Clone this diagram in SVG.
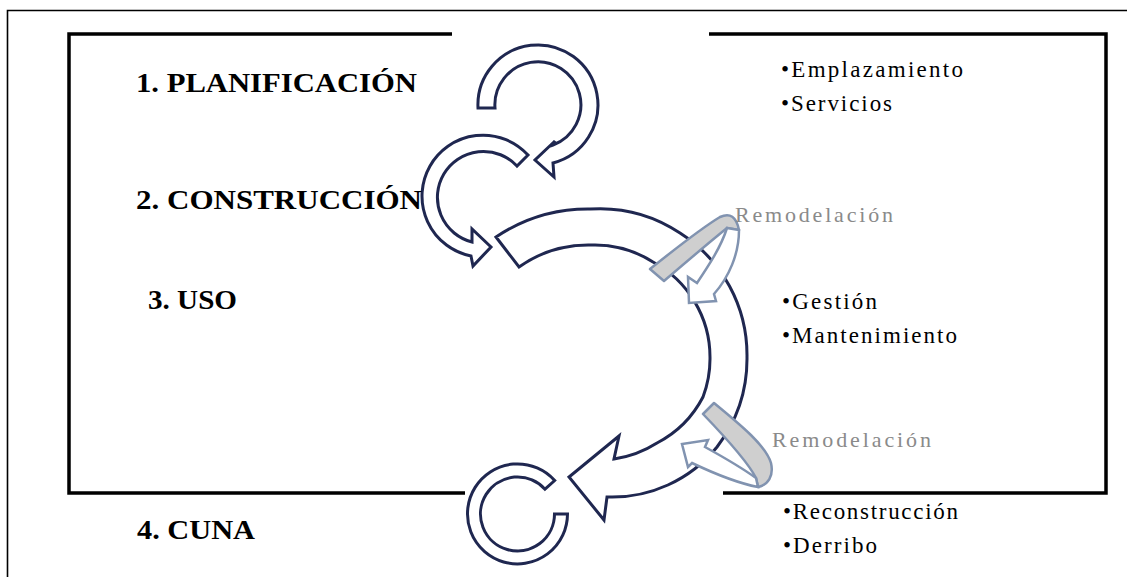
<svg xmlns="http://www.w3.org/2000/svg" width="1127" height="577" viewBox="0 0 1127 577">
<style>
.frame{fill:none;stroke:#000;stroke-width:3.5}
.outer{fill:none;stroke:#000;stroke-width:1.6}
.arr{fill:#fff;stroke:#1f2750;stroke-width:3;stroke-linejoin:miter}
.band{fill:#cfcfcf;stroke:#8193b0;stroke-width:2.5;stroke-linejoin:round}
.shaft{fill:#fff;stroke:#8193b0;stroke-width:2.5;stroke-linejoin:miter}
.stage{font-family:"Liberation Serif",serif;font-weight:bold;font-size:28px;fill:#000}
.item{font-family:"Liberation Serif",serif;font-size:23px;fill:#000}
.remo{font-family:"Liberation Serif",serif;font-size:22px;fill:#8a8a8a}
</style>
<rect width="1127" height="577" fill="#fff"/>
<path class="outer" d="M1127,10.5 H7.5 V577"/>
<g id="frame">
<path class="frame" d="M452,34 H69 V493 H465"/>
<path class="frame" d="M709,34 H1106 V493 H723"/>
</g>
<g id="connectors">
<path id="loop-planificacion" class="arr" d="M478,108 A60,60 0 1,1 553,163 L554,177 L535,160 L555,141 L553,145 A43,43 0 1,0 495,108 Z"/>
<path id="loop-construccion" class="arr" d="M528,155 A61,61 0 1,0 471,256 L473,266 L491,247 L472,229 L472,242 A46,46 0 1,1 517,166 Z"/>
<path id="loop-uso" class="arr" d="M496,237 A165,165 0 0,1 590,209 A145,145 0 0,1 680,233 A145,145 0 0,1 747,357 A145,145 0 0,1 717,447 A135,135 0 0,1 607,497 L604,520 L569,477 L619,436 L614,459 A110,110 0 0,0 657,443 A108,108 0 0,0 703,397 A108,108 0 0,0 710,357 A108,108 0 0,0 653,262 A108,108 0 0,0 590,245 A120,120 0 0,0 519,267 Z"/>
<path id="loop-cuna" class="arr" d="M567.5,514 A50,50 0 1,1 554.7,480.5 L545,489.2 A37,37 0 1,0 554.5,514 Z"/>
<g id="remodelacion-1">
<path class="band" d="M650,269 C675,249 700,229 720,217 Q735,210 739,230 L727,228 C706,245 685,263 664,281 Z"/>
<path class="shaft" d="M739,230 C739,254 729,277 714,294 L716,301 L689,303 L688,277 L697,283 C709,265 721,247 727,228 Z"/>
</g>
<g id="remodelacion-2">
<path class="band" d="M714,403 C742,426 766,446 771,463 C774,476 768,485 758,487 L756,478 C748,462 728,440 703,414 Z"/>
<path class="shaft" d="M758,487 C737,483 713,473 692,463 L688,467 L682,444 L708,440 L705,447 C725,458 742,468 756,478 Z"/>
</g>
</g>
<g id="stage-1"><text class="stage" x="136" y="92" textLength="281" lengthAdjust="spacingAndGlyphs">1. PLANIFICACIÓN</text></g>
<g id="stage-2"><text class="stage" x="136" y="209" textLength="286" lengthAdjust="spacingAndGlyphs">2. CONSTRUCCIÓN</text></g>
<g id="stage-3"><text class="stage" x="148" y="309" textLength="89" lengthAdjust="spacingAndGlyphs">3. USO</text></g>
<g id="stage-4"><text class="stage" x="137" y="539" textLength="118" lengthAdjust="spacingAndGlyphs">4. CUNA</text></g>
<g id="items-1">
<text class="item" x="781" y="77" textLength="182" lengthAdjust="spacing">•Emplazamiento</text>
<text class="item" x="781" y="111" textLength="111" lengthAdjust="spacing">•Servicios</text>
</g>
<g id="items-3">
<text class="item" x="782" y="309" textLength="95" lengthAdjust="spacing">•Gestión</text>
<text class="item" x="782" y="343" textLength="175" lengthAdjust="spacing">•Mantenimiento</text>
</g>
<g id="items-4">
<text class="item" x="783" y="519" textLength="175" lengthAdjust="spacing">•Reconstrucción</text>
<text class="item" x="783" y="553" textLength="94" lengthAdjust="spacing">•Derribo</text>
</g>
<g id="label-remodelacion-1"><text class="remo" x="735" y="222" textLength="158" lengthAdjust="spacing">Remodelación</text></g>
<g id="label-remodelacion-2"><text class="remo" x="772" y="447" textLength="159" lengthAdjust="spacing">Remodelación</text></g>
</svg>
